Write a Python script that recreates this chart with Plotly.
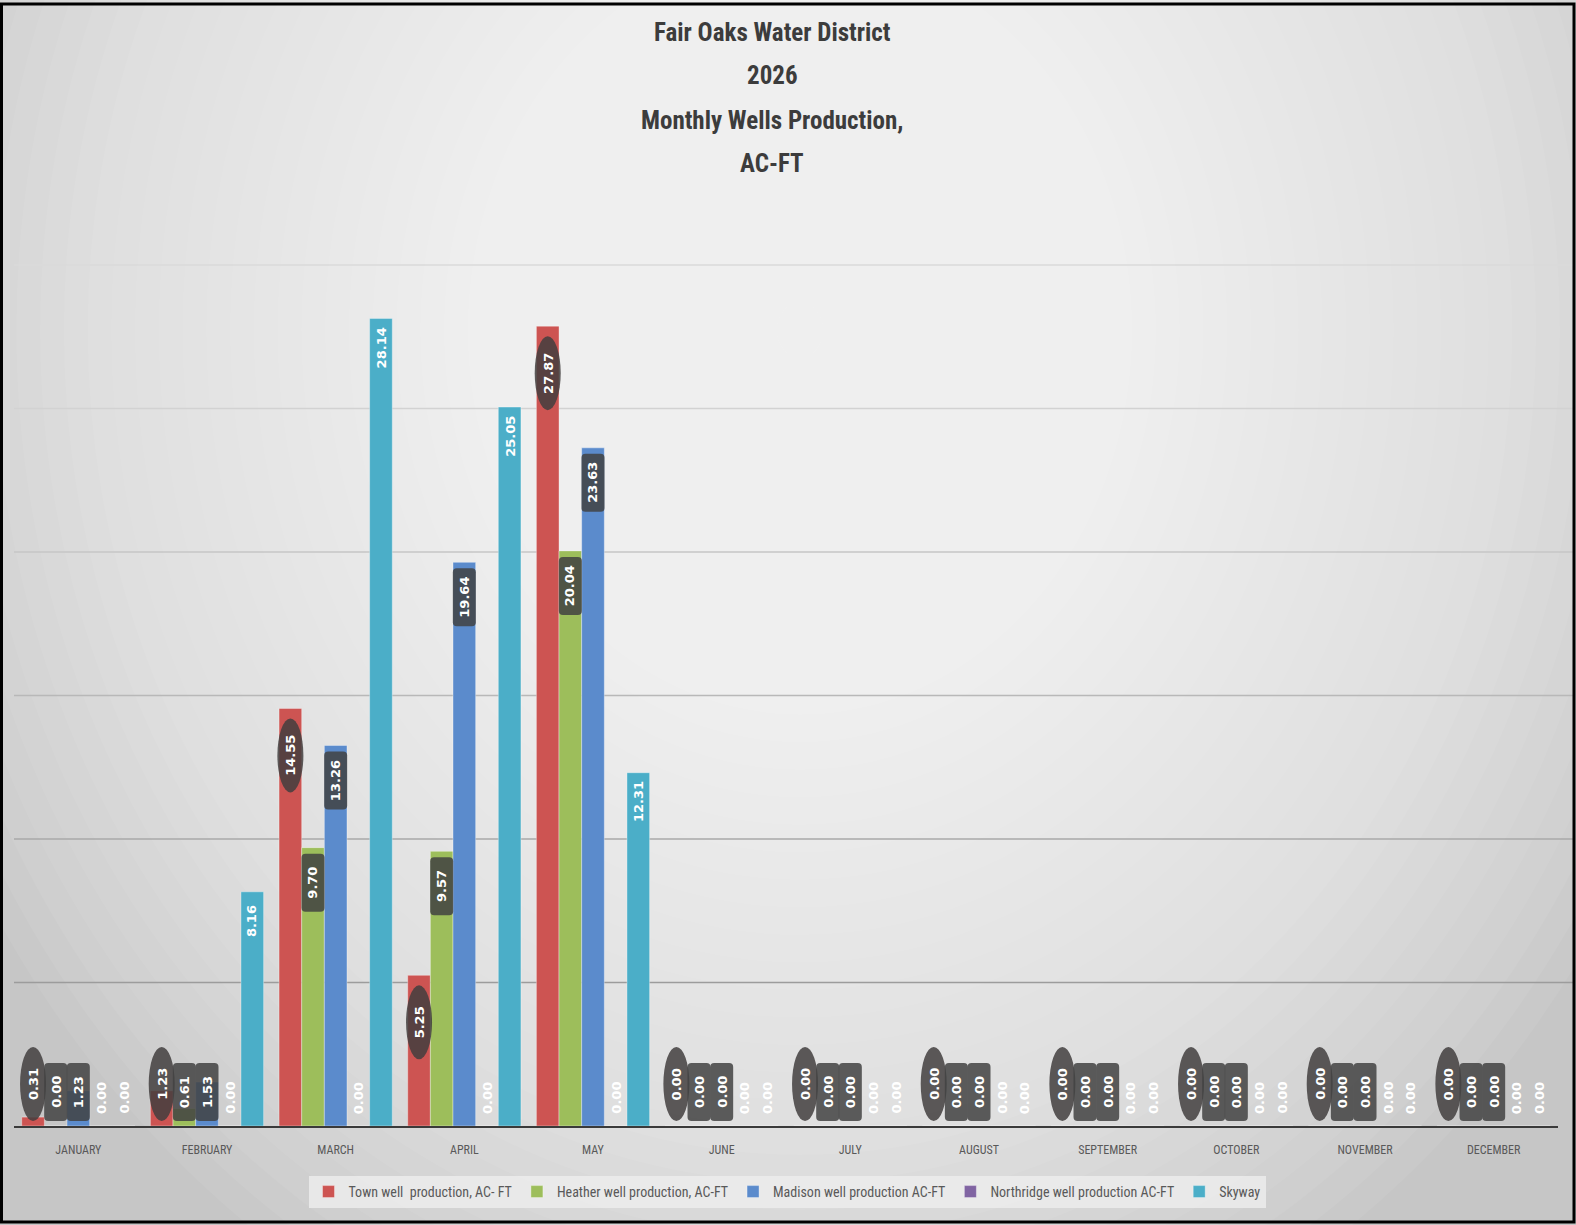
import plotly.graph_objects as go

# ---------------- data ----------------
MONTHS = ["JANUARY", "FEBRUARY", "MARCH", "APRIL", "MAY", "JUNE", "JULY",
          "AUGUST", "SEPTEMBER", "OCTOBER", "NOVEMBER", "DECEMBER"]
TOWN = [0.31, 1.23, 14.55, 5.25, 27.87, 0.00, 0.00, 0.00, 0.00, 0.00, 0.00, 0.00]
HEATHER = [0.00, 0.61, 9.70, 9.57, 20.04, 0.00, 0.00, 0.00, 0.00, 0.00, 0.00, 0.00]
MADISON = [1.23, 1.53, 13.26, 19.64, 23.63, 0.00, 0.00, 0.00, 0.00, 0.00, 0.00, 0.00]
NORTHRIDGE = [0.00, 0.00, 0.00, 0.00, 0.00, 0.00, 0.00, 0.00, 0.00, 0.00, 0.00, 0.00]
SKYWAY = [0.00, 8.16, 28.14, 25.05, 12.31, 0.00, 0.00, 0.00, 0.00, 0.00, 0.00, 0.00]

SERIES_NAMES = ["Town well  production, AC- FT", "Heather well production, AC-FT",
                "Madison well production AC-FT", "Northridge well production AC-FT", "Skyway"]
SERIES_VALUES = [TOWN, HEATHER, MADISON, NORTHRIDGE, SKYWAY]
COLORS = ["#CD5452", "#9DBE5B", "#5B8BCC", "#8064A2", "#4BAEC8"]
TITLE_LINES = ["Fair Oaks Water District", "2026", "Monthly Wells Production,", "AC-FT"]
GRID_VALUES = [5, 10, 15, 20, 25, 30]
GRID_COLORS = ["#9c9c9c", "#a8a8a8", "#b8b8b8", "#c6c6c6", "#d2d2d2", "#dadada"]

# ---------------- layout geometry ----------------
W, H = 1576, 1225
ML, MR, MT, MB = 14, 18, 222, 99
PW, PH = W - ML - MR, H - MT - MB
YMAX = 31.5
PPU = PH / YMAX
BARGAP = 0.12
BAR_W = PW / len(MONTHS) * (1 - BARGAP) / len(SERIES_VALUES)

NARROW = "Liberation Sans Narrow, Roboto Condensed, Arial Narrow, sans-serif"


def px2x(px):
    return (px - ML) / PW


def px2y(py):
    return (MT + PH - py) / PH


fig = go.Figure()
for name, vals, col in zip(SERIES_NAMES, SERIES_VALUES, COLORS):
    fig.add_trace(go.Bar(x=MONTHS, y=vals, name=name,
                         marker=dict(color=col, line=dict(color="rgba(255,255,255,0.35)", width=1))))

shapes = []
# radial-ish background gradient
N = 40
cx, cy = 800, 330
RX, RY = 950, 1100
for k in range(N):
    f = 1 - k / N
    shapes.append(dict(type="circle", xref="paper", yref="paper", layer="below",
                       x0=px2x(cx - RX * f), x1=px2x(cx + RX * f),
                       y0=px2y(cy + RY * f), y1=px2y(cy - RY * f),
                       fillcolor="rgba(255,255,255,0.06)", line=dict(width=0)))

# gridlines
for gv, gc in zip(GRID_VALUES, GRID_COLORS):
    shapes.append(dict(type="line", xref="paper", yref="y", layer="below",
                       x0=0, x1=px2x(1573), y0=gv, y1=gv, line=dict(color=gc, width=1.5)))

annotations = []
# data labels
LBL = [  # (style, width, height, gap)
    ("ellipse", 26, 74, 10),
    ("box", 23, 58, 6),
    ("box", 23, 58, 6),
    ("plain", 16, 46, 6),
    ("plain", 16, 46, 6),
]


def rounded_path(x0, x1, y0, y1, r):
    # y positive up (pixel sizemode), y1 > y0
    return (f"M {x0 + r},{y0} L {x1 - r},{y0} Q {x1},{y0} {x1},{y0 + r} "
            f"L {x1},{y1 - r} Q {x1},{y1} {x1 - r},{y1} L {x0 + r},{y1} "
            f"Q {x0},{y1} {x0},{y1 - r} L {x0},{y0 + r} Q {x0},{y0} {x0 + r},{y0} Z")


for i, vals in enumerate(SERIES_VALUES):
    style, w, h, gap = LBL[i]
    off = (i - 2) * BAR_W
    for m, v in zip(MONTHS, vals):
        if v * PPU >= gap + h + 5:
            anchor = v
            ytop, ybot = -gap, -(gap + h)
        else:
            anchor = 0
            ybot, ytop = 5, 5 + h
        if style == "ellipse":
            shapes.append(dict(type="circle", xref="x", yref="y",
                               xsizemode="pixel", ysizemode="pixel",
                               xanchor=m, yanchor=anchor,
                               x0=off - w / 2, x1=off + w / 2, y0=ybot, y1=ytop,
                               fillcolor="rgba(66,62,62,0.85)", line=dict(width=0)))
        elif style == "box":
            shapes.append(dict(type="path", xref="x", yref="y",
                               xsizemode="pixel", ysizemode="pixel",
                               xanchor=m, yanchor=anchor,
                               path=rounded_path(off - w / 2, off + w / 2, ybot, ytop, 4),
                               fillcolor="rgba(66,66,66,0.85)", line=dict(width=0)))
        annotations.append(dict(x=m, y=anchor, xref="x", yref="y",
                                xshift=off, yshift=(ytop + ybot) / 2,
                                text=f"{v:.2f}", showarrow=False, textangle=-90,
                                xanchor="center", yanchor="middle",
                                font=dict(family="DejaVu Sans", size=13, color="white", weight="bold")))

# title lines
TITLE_Y_PX = [33, 76, 120, 163]
for t, ty in zip(TITLE_LINES, TITLE_Y_PX):
    annotations.append(dict(x=px2x(772), y=px2y(ty), xref="paper", yref="paper",
                            text=t, showarrow=False, xanchor="center", yanchor="middle",
                            font=dict(family=NARROW, size=25, color="#3c3c3c", weight="bold")))

# outer frame
shapes.append(dict(type="rect", xref="paper", yref="paper", layer="above",
                   x0=px2x(1.5), x1=px2x(1574), y0=px2y(1222), y1=px2y(4),
                   line=dict(color="black", width=3), fillcolor="rgba(0,0,0,0)"))

fig.update_layout(
    width=W, height=H,
    margin=dict(l=ML, r=MR, t=MT, b=MB),
    paper_bgcolor="#c6c6c6",
    plot_bgcolor="rgba(0,0,0,0)",
    barmode="group", bargap=BARGAP, bargroupgap=0,
    showlegend=True,
    legend=dict(orientation="h", x=px2x(787), xanchor="center",
                y=px2y(1192), yanchor="middle",
                bgcolor="rgba(236,236,236,0.85)",
                font=dict(family=NARROW, size=14, color="#595959"),
                itemwidth=30),
    xaxis=dict(showgrid=False, showline=True, linecolor="#3a3a3a", linewidth=2,
               ticks="outside", ticklen=12, tickcolor="rgba(0,0,0,0)",
               tickfont=dict(family=NARROW, size=12, color="#595959"),
               fixedrange=True),
    yaxis=dict(range=[0, YMAX], showgrid=False, zeroline=False, showticklabels=False,
               showline=False, fixedrange=True),
    shapes=shapes,
    annotations=annotations,
)

fig.write_html("out.html")
